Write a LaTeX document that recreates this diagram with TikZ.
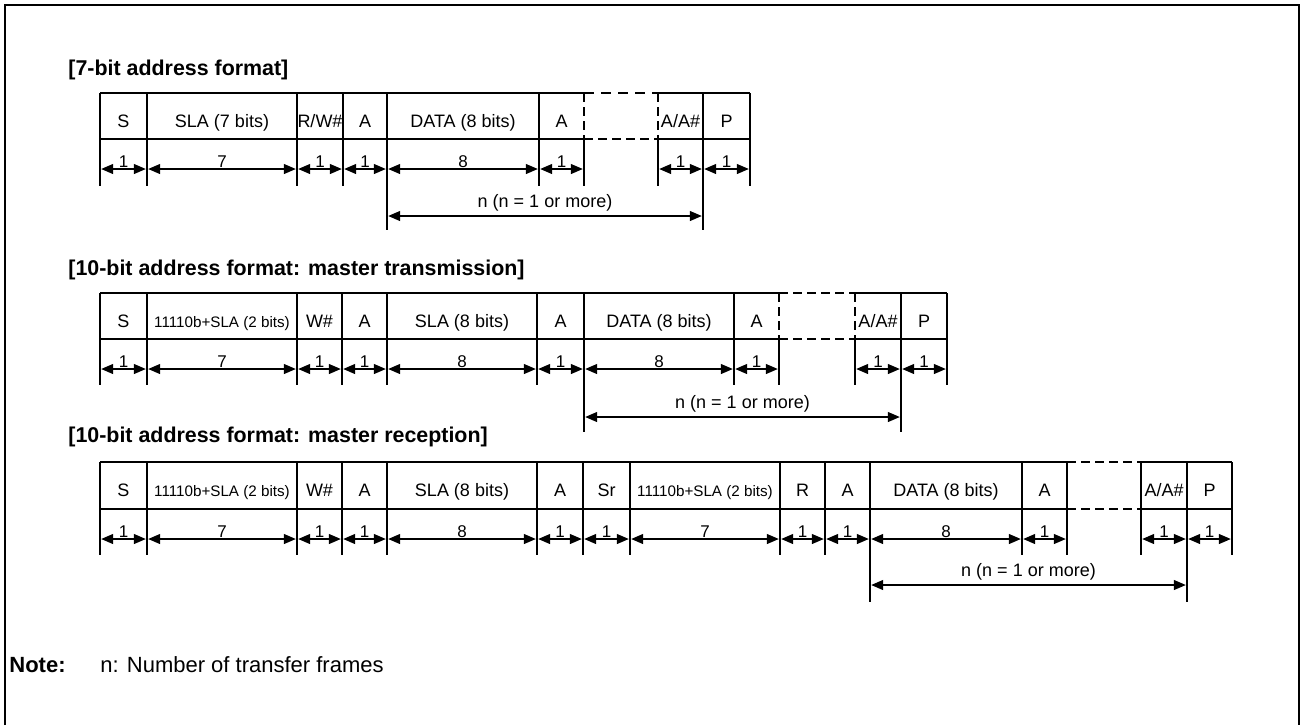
\documentclass[tikz,border=0pt]{standalone}
\usepackage{fontspec}
\setmainfont{Liberation Sans}
\usetikzlibrary{arrows.meta,calc}

\begin{document}
\begin{tikzpicture}[x=0.5pt,y=-0.5pt,
    boxline/.style={line width=1.4pt},
    gapline/.style={line width=1.4pt,dash pattern=on 4.5pt off 2.5pt},
    thingap/.style={line width=0.6pt,dash pattern=on 5pt off 3.5pt},
    dimline/.style={line width=0.6pt,{Triangle[length=6pt,width=5pt]}-{Triangle[length=6pt,width=5pt]},shorten <=0.6pt,shorten >=0.6pt},
    field/.style={anchor=base,inner sep=0pt,font=\fontsize{9}{10}\selectfont},
    bitcount/.style={anchor=base,inner sep=0pt,font=\fontsize{8.5}{10}\selectfont},
    heading/.style={anchor=west,inner sep=0pt,font=\fontsize{10.7}{12}\selectfont\bfseries}]
  \useasboundingbox (0,0) rectangle (1301,725);
  \draw[line width=1pt] (5,725) -- (5,5) -- (1299,5) -- (1299,725);

  % 7-bit address format
  \node[heading] (h1) at (68,70) {[7-bit address format]};
  \foreach \x [count=\i from 0] in {100,147,297,343,387,539,584,658,703,750}{
    \coordinate (t1-\i) at (\x,93);
    \coordinate (m1-\i) at (\x,139);
    \coordinate (a1-\i) at (\x,169);
    \coordinate (b1-\i) at (\x,186);
    \coordinate (k1-\i) at (\x,216);
    \coordinate (e1-\i) at (\x,230);
  }
  \draw[boxline] (t1-0) -- (t1-6) (t1-7) -- (t1-9) (m1-0) -- (m1-6) (m1-7) -- (m1-9);
  \draw[thingap] (t1-6) -- (t1-7);
  \draw[gapline] (m1-6) -- (m1-7);
  \foreach \i in {0,1,2,3,4,5,8,9} \draw[boxline] (t1-\i) -- (b1-\i);
  \foreach \i in {6,7}{
    \draw[gapline] (t1-\i) -- (m1-\i);
    \draw[boxline] (m1-\i) -- (b1-\i);
  }
  \draw[boxline] (b1-4) -- (e1-4) (b1-8) -- (e1-8);
  \foreach \i/\t in {0/S,1/SLA (7 bits),2/{R/W\#},3/A,4/DATA (8 bits),5/A,7/{A/A\#},8/P}{
    \pgfmathtruncatemacro\j{\i+1}
    \node[field] (f1-\i) at ($(t1-\i)!0.5!(t1-\j)+(0,34)$) {\t};
  }
  \foreach \i/\b in {0/1,1/7,2/1,3/1,4/8,5/1,7/1,8/1}{
    \pgfmathtruncatemacro\j{\i+1}
    \draw[dimline] (a1-\i) -- (a1-\j);
    \node[bitcount] (d1-\i) at ($(a1-\i)!0.5!(a1-\j)+(0,-2)$) {\b};
  }
  \draw[dimline] (k1-4) -- (k1-8);
  \node[field] (n1) at ($(k1-4)!0.5!(k1-8)+(0,-9)$) {n (n = 1 or more)};

  % 10-bit address format: master transmission
  \node[heading] (h2) at (68,270) {[10-bit address format: master transmission]};
  \foreach \x [count=\i from 0] in {100,147,297,342,387,537,584,734,779,855,901,947}{
    \coordinate (t2-\i) at (\x,293);
    \coordinate (m2-\i) at (\x,339);
    \coordinate (a2-\i) at (\x,369);
    \coordinate (b2-\i) at (\x,385);
    \coordinate (k2-\i) at (\x,417);
    \coordinate (e2-\i) at (\x,432);
  }
  \draw[boxline] (t2-0) -- (t2-8) (t2-9) -- (t2-11) (m2-0) -- (m2-8) (m2-9) -- (m2-11);
  \draw[gapline] (t2-8) -- (t2-9) (m2-8) -- (m2-9);
  \foreach \i in {0,1,2,3,4,5,6,7,10,11} \draw[boxline] (t2-\i) -- (b2-\i);
  \foreach \i in {8,9}{
    \draw[gapline] (t2-\i) -- (m2-\i);
    \draw[boxline] (m2-\i) -- (b2-\i);
  }
  \draw[boxline] (b2-6) -- (e2-6) (b2-10) -- (e2-10);
  \foreach \i/\t in {0/S,1/{\fontsize{7.6}{9}\selectfont 11110b+SLA (2 bits)},2/W\#,3/A,4/SLA (8 bits),5/A,6/DATA (8 bits),7/A,9/{A/A\#},10/P}{
    \pgfmathtruncatemacro\j{\i+1}
    \node[field] (f2-\i) at ($(t2-\i)!0.5!(t2-\j)+(0,34)$) {\t};
  }
  \foreach \i/\b in {0/1,1/7,2/1,3/1,4/8,5/1,6/8,7/1,9/1,10/1}{
    \pgfmathtruncatemacro\j{\i+1}
    \draw[dimline] (a2-\i) -- (a2-\j);
    \node[bitcount] (d2-\i) at ($(a2-\i)!0.5!(a2-\j)+(0,-2)$) {\b};
  }
  \draw[dimline] (k2-6) -- (k2-10);
  \node[field] (n2) at ($(k2-6)!0.5!(k2-10)+(0,-9)$) {n (n = 1 or more)};

  % 10-bit address format: master reception
  \node[heading] (h3) at (68,437) {[10-bit address format: master reception]};
  \foreach \x [count=\i from 0] in {100,147,297,342,387,537,583,630,780,825,870,1022,1067,1141,1187,1232}{
    \coordinate (t3-\i) at (\x,462);
    \coordinate (m3-\i) at (\x,509);
    \coordinate (a3-\i) at (\x,539);
    \coordinate (b3-\i) at (\x,555);
    \coordinate (k3-\i) at (\x,585);
    \coordinate (e3-\i) at (\x,602);
  }
  \draw[boxline] (t3-0) -- (t3-12) (t3-13) -- (t3-15) (m3-0) -- (m3-12) (m3-13) -- (m3-15);
  \draw[gapline] (t3-12) -- (t3-13) (m3-12) -- (m3-13);
  \foreach \i in {0,...,15} \draw[boxline] (t3-\i) -- (b3-\i);
  \draw[boxline] (b3-10) -- (e3-10) (b3-14) -- (e3-14);
  \foreach \i/\t in {0/S,1/{\fontsize{7.6}{9}\selectfont 11110b+SLA (2 bits)},2/W\#,3/A,4/SLA (8 bits),5/A,6/Sr,7/{\fontsize{7.6}{9}\selectfont 11110b+SLA (2 bits)},8/R,9/A,10/DATA (8 bits),11/A,13/{A/A\#},14/P}{
    \pgfmathtruncatemacro\j{\i+1}
    \node[field] (f3-\i) at ($(t3-\i)!0.5!(t3-\j)+(0,34)$) {\t};
  }
  \foreach \i/\b in {0/1,1/7,2/1,3/1,4/8,5/1,6/1,7/7,8/1,9/1,10/8,11/1,13/1,14/1}{
    \pgfmathtruncatemacro\j{\i+1}
    \draw[dimline] (a3-\i) -- (a3-\j);
    \node[bitcount] (d3-\i) at ($(a3-\i)!0.5!(a3-\j)+(0,-2)$) {\b};
  }
  \draw[dimline] (k3-10) -- (k3-14);
  \node[field] (n3) at ($(k3-10)!0.5!(k3-14)+(0,-9)$) {n (n = 1 or more)};

  \node[heading,font=\fontsize{11}{13}\selectfont\bfseries] (note) at (9,665) {Note:};
  \node[field,anchor=west,font=\fontsize{11}{13}\selectfont] (notetext) at (100,665) {n: Number of transfer frames};
\end{tikzpicture}
\end{document}
